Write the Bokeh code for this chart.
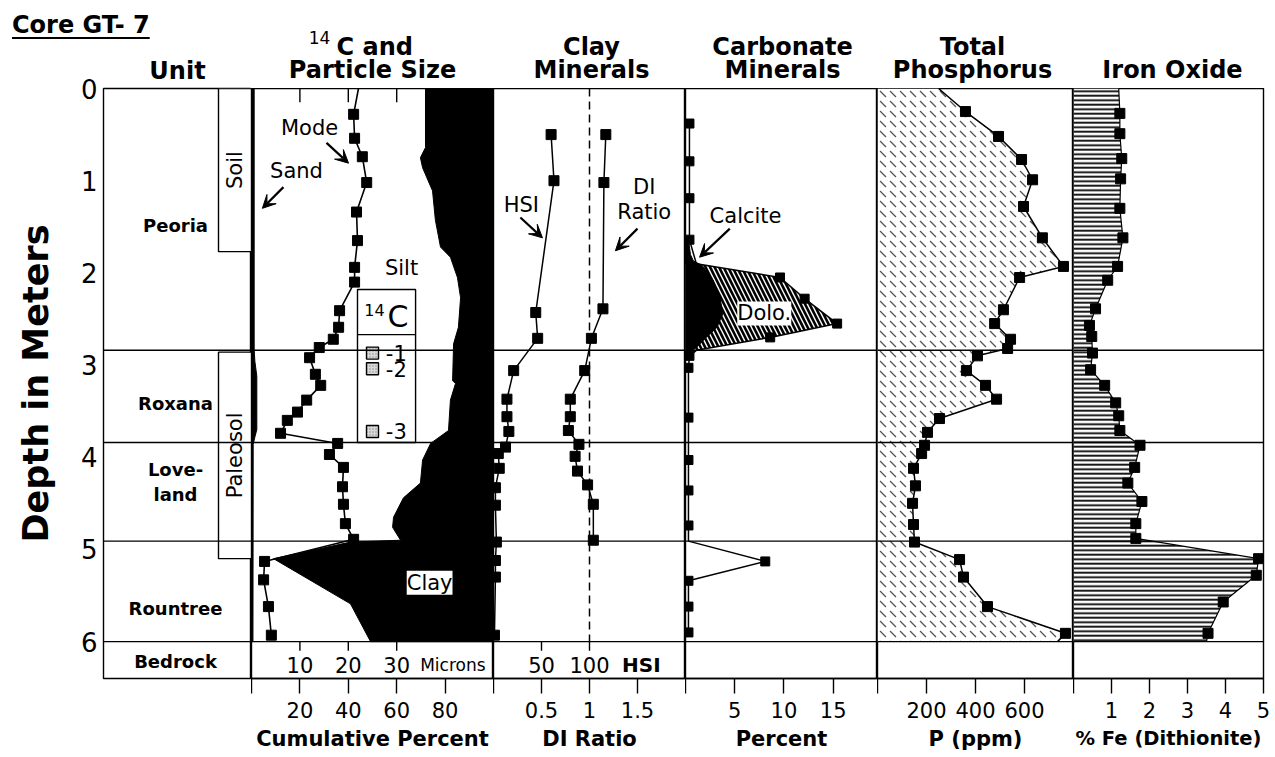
import numpy as np
from bokeh.plotting import figure
from bokeh.layouts import row, column
from bokeh.models import Range1d, FixedTicker, Span, Label, Arrow, VeeHead, Div
from bokeh.core.properties import value
from bokeh.embed import file_html
from bokeh.resources import INLINE

FONT = "DejaVu Sans"

# ---------------- data ----------------
depth_ticks = [0, 1, 2, 3, 4, 5, 6]
unit_names = ["Peoria", "Roxana", "Love-\nland", "Rountree", "Bedrock"]
unit_label_depth = [1.49, 3.42, 4.27, 5.64, 6.22]
unit_boundaries = [2.84, 3.84, 4.91, 6.0]
soil_names = ["Soil", "Paleosol"]
soil_top = [0.0, 2.86]
soil_bottom = [1.77, 5.10]

# 14C and particle size (cumulative percent / microns)
sand_depth = [0.0, 2.84, 2.96, 3.12, 3.70, 3.78, 3.86, 6.0]
sand_pct = [1.1, 1.1, 1.4, 2.2, 2.2, 1.4, 0.7, 0.6]
clay_depth = [0.0, 0.64, 0.75, 0.86, 1.11, 1.43, 1.72, 1.83, 2.05, 2.27, 2.59, 2.77, 3.17,
              3.20, 3.38, 3.71, 3.85, 4.03, 4.28, 4.44, 4.65, 4.76, 4.90, 4.92, 5.10, 5.59, 6.0]
clay_pct = [71.9, 71.9, 69.8, 70.7, 74.8, 76.0, 78.1, 82.2, 85.1, 86.4, 85.5, 83.5, 83.1,
            84.3, 82.2, 81.4, 74.0, 70.7, 69.8, 62.8, 58.7, 58.3, 61.6, 40.9, 9.1, 40.9, 49.2]
mode_depth = [0.28, 0.54, 0.74, 1.02, 1.34, 1.65, 1.94, 2.10, 2.41, 2.59, 2.72, 2.81, 2.92, 3.10,
              3.22, 3.38, 3.51, 3.60, 3.74, 3.85, 3.97, 4.11, 4.32, 4.51, 4.72, 4.89, 5.13, 5.33,
              5.62, 5.93]
mode_microns = [21.1, 21.3, 22.9, 23.8, 21.7, 21.9, 21.3, 21.3, 18.2, 18.0, 16.9, 14.0, 12.0, 13.2,
                14.3, 11.4, 9.5, 7.4, 6.0, 17.8, 16.1, 19.0, 18.8, 19.0, 19.4, 21.1, 2.7, 2.5,
                3.5, 4.1]
mode_surface = 22.1
c14_depth = [2.87, 3.04, 3.72]
c14_names = ["-1", "-2", "-3"]
micron_ticks = [10, 20, 30]
pct_ticks = [0, 20, 40, 60, 80]
pct_labels = ["", "20", "40", "60", "80"]

# clay minerals
hsi_depth = [0.50, 1.00, 2.43, 2.71, 3.06, 3.37, 3.56, 3.72, 3.89, 3.96, 4.12, 4.33, 4.52,
             4.92, 5.12, 5.30, 5.93]
hsi_value = [60, 63, 44, 46, 21, 14, 14, 16, 12.5, 5, 6, 2, 2, 3, 2, 2, 1]
di_depth = [0.50, 1.02, 2.39, 2.71, 3.06, 3.37, 3.56, 3.71, 3.86, 3.99, 4.15, 4.30, 4.51, 4.90]
di_value = [1.17, 1.15, 1.14, 1.02, 0.95, 0.80, 0.80, 0.78, 0.89, 0.85, 0.875, 0.98, 1.04, 1.04]
di_reference = 1.0
hsi_ticks = [50, 100]
di_ticks = [0, 0.5, 1, 1.5]
di_labels = ["", "0.5", "1", "1.5"]

# carbonate minerals
carb_depth = [0.38, 0.79, 1.19, 1.64, 1.90, 2.05, 2.28, 2.55, 2.70, 2.84, 2.90, 3.03, 3.57,
              4.03, 4.36, 4.74, 4.91, 5.13, 5.34, 5.62, 5.90]
carb_pct = [0.4, 0.4, 0.4, 0.4, 1.1, 9.6, 12.1, 15.4, 8.6, 1.1, 0.4, 0.3, 0.3,
            0.3, 0.3, 0.3, 0.3, 8.1, 0.3, 0.3, 0.3]
carb_sampled = [1, 1, 1, 1, 0, 1, 1, 1, 1, 0, 1, 1, 1, 1, 1, 1, 0, 1, 1, 1, 1]
dolo_depth = [1.90, 2.05, 2.28, 2.55, 2.70, 2.84]
dolo_pct = [1.1, 9.6, 12.1, 15.4, 8.6, 1.1]
calcite_depth = [1.64, 1.80, 1.87, 1.92, 2.08, 2.27, 2.44, 2.59, 2.70, 2.81, 2.86]
calcite_pct = [0.3, 0.5, 0.8, 1.7, 2.8, 3.5, 3.8, 3.2, 2.1, 1.1, 0.4]
carb_ticks = [0, 5, 10, 15]
carb_labels = ["", "5", "10", "15"]

# total phosphorus
p_depth = [0.25, 0.52, 0.77, 0.99, 1.28, 1.62, 1.93, 2.05, 2.40, 2.55, 2.72, 2.82, 2.90, 3.06,
           3.22, 3.37, 3.58, 3.73, 3.87, 3.96, 4.12, 4.31, 4.50, 4.73, 4.92, 5.11, 5.30, 5.62,
           5.91]
p_ppm = [359, 494, 588, 633, 596, 673, 759, 580, 514, 478, 543, 531, 408, 363,
         441, 486, 253, 204, 192, 180, 147, 155, 143, 147, 151, 335, 351, 449, 767]
p_surface = 249
p_base = 735
p_ticks = [0, 200, 400, 600]
p_labels = ["", "200", "400", "600"]

# iron oxide
fe_depth = [0.27, 0.49, 0.76, 0.98, 1.30, 1.62, 1.93, 2.08, 2.39, 2.57, 2.69, 2.87, 3.05, 3.22,
            3.41, 3.55, 3.71, 3.87, 4.11, 4.28, 4.48, 4.72, 4.88, 5.10, 5.28, 5.57, 5.91]
fe_pct = [1.22, 1.22, 1.27, 1.24, 1.22, 1.30, 1.16, 0.90, 0.58, 0.42, 0.48, 0.50, 0.45, 0.82,
          1.11, 1.19, 1.22, 1.75, 1.61, 1.43, 1.80, 1.64, 1.64, 4.87, 4.81, 3.94, 3.54]
fe_surface = 1.19
fe_base = 3.5
fe_ticks = [0, 1, 2, 3, 4, 5]
fe_labels = ["", "1", "2", "3", "4", "5"]

# ---------------- layout constants (pixels) ----------------
HEADER_H = 88          # header height above the panels
CORE_H = 45            # title strip above the unit column
FRAME_H = 590
BOTTOM_H = 78
LEFT_B = 103
UNIT_W = 148
PANELS_X0 = LEFT_B + UNIT_W
PANELS_W = 1271 - PANELS_X0
LW = 1.4

yr = Range1d(6.4, 0)


def base(fig):
    fig.grid.visible = False
    fig.outline_line_color = "black"
    fig.outline_line_width = LW
    fig.background_fill_color = "white"
    fig.border_fill_color = "white"
    for d in unit_boundaries:
        fig.add_layout(Span(location=d, dimension="width", line_color="black", line_width=LW))
    return fig


def panel(frame_w, x0, x1, right_border=0):
    fig = figure(frame_width=frame_w, frame_height=FRAME_H, x_range=Range1d(x0, x1), y_range=yr,
                 output_backend="svg", toolbar_location=None, y_axis_location=None,
                 min_border_left=0, min_border_right=right_border, min_border_top=0,
                 min_border_bottom=BOTTOM_H)
    return base(fig)


def bottom_axis(fig, ticks, labels, title, title_size="21px"):
    ax = fig.xaxis[0]
    ax.ticker = FixedTicker(ticks=ticks)
    ax.major_label_overrides = {t: l for t, l in zip(ticks, labels)}
    ax.minor_tick_line_color = None
    ax.major_tick_out = 15
    ax.major_tick_in = 0
    ax.major_tick_line_width = LW
    ax.major_tick_line_color = "black"
    ax.axis_line_color = "black"
    ax.axis_line_width = LW
    ax.major_label_text_font = FONT
    ax.major_label_text_font_size = "21px"
    ax.major_label_text_color = "black"
    ax.major_label_standoff = 8
    ax.axis_label = title
    ax.axis_label_text_font = FONT
    ax.axis_label_text_font_size = title_size
    ax.axis_label_text_font_style = "bold"
    ax.axis_label_text_color = "black"
    ax.axis_label_standoff = 6


def txt(fig, x, y, s, size="20px", style="normal", align="center", **kw):
    fig.text(x=x, y=y, text=s, text_font=value(FONT), text_font_size=size,
             text_font_style=style, text_align=align, text_baseline="middle",
             text_color="black", **kw)


def lab(fig, x, y, s, size="20px", style="normal", bg=None, **kw):
    fig.add_layout(Label(x=x, y=y, text=s, text_font=FONT, text_font_size=size,
                         text_font_style=style, text_align="center", text_baseline="middle",
                         text_color="black", background_fill_color=bg, **kw))


def arrow(fig, xs, ys, xe, ye, **kw):
    fig.add_layout(Arrow(x_start=xs, y_start=ys, x_end=xe, y_end=ye, line_width=2.2,
                         line_color="black",
                         end=VeeHead(size=13, fill_color="black", line_color="black"), **kw))


# ---------------- headers ----------------
core_title = "Core GT- 7"
hc = Div(text=('<span style="text-decoration: underline; text-decoration-thickness: 2px; '
               'text-underline-offset: 4px; text-decoration-skip-ink: none;">'
               + core_title + '</span>'),
         width=PANELS_X0, height=CORE_H, margin=0,
         styles={"font-family": "'DejaVu Sans', sans-serif", "font-size": "24px",
                 "font-weight": "bold", "line-height": "24px", "padding-top": "13px",
                 "padding-left": "12px", "box-sizing": "border-box", "color": "black",
                 "background": "white"})

hp = figure(frame_width=PANELS_W, frame_height=HEADER_H, x_range=Range1d(0, PANELS_W),
            y_range=Range1d(HEADER_H, 0), output_backend="svg", toolbar_location=None,
            x_axis_location=None, y_axis_location=None, min_border=0)
hp.grid.visible = False
hp.outline_line_color = None
hp.border_fill_color = "white"
hp.background_fill_color = "white"
ox = PANELS_X0
txt(hp, [319 - ox], [37], ["14"], size="17px")
txt(hp, [336 - ox], [46], ["C and"], size="24px", style="bold", align="left")
txt(hp, [372 - ox, 591 - ox, 782 - ox, 972 - ox, 1172 - ox], [69] * 5,
    ["Particle Size", "Minerals", "Minerals", "Phosphorus", "Iron Oxide"],
    size="24px", style="bold")
txt(hp, [591 - ox, 782 - ox, 972 - ox], [46] * 3, ["Clay", "Carbonate", "Total"],
    size="24px", style="bold")

# ---------------- unit column ----------------
pu = figure(frame_width=UNIT_W, frame_height=FRAME_H, x_range=Range1d(0, UNIT_W), y_range=yr,
            output_backend="svg", toolbar_location=None, x_axis_location=None,
            min_border_left=LEFT_B, min_border_right=0, min_border_top=HEADER_H - CORE_H,
            min_border_bottom=BOTTOM_H, title="Unit")
base(pu)
pu.title.text_font = FONT
pu.title.text_font_size = "24px"
pu.title.text_font_style = "bold"
pu.title.align = "center"
pu.title.text_color = "black"
pu.title.standoff = 8
ya = pu.yaxis[0]
ya.ticker = FixedTicker(ticks=depth_ticks)
ya.minor_tick_line_color = None
ya.major_tick_in = 0
ya.major_tick_out = 0
ya.axis_line_color = None
ya.major_label_text_font = FONT
ya.major_label_text_font_size = "26px"
ya.major_label_text_color = "black"
ya.major_label_standoff = 6
ya.axis_label = "Depth in Meters"
ya.axis_label_text_font = FONT
ya.axis_label_text_font_size = "35px"
ya.axis_label_text_font_style = "bold"
ya.axis_label_text_color = "black"
ya.axis_label_standoff = 22

pu.quad(left=[115, 115], right=[148, 148], top=soil_top, bottom=soil_bottom,
        fill_color="white", line_color="black", line_width=LW)
txt(pu, [131.5, 131.5], [(a + b) / 2 for a, b in zip(soil_top, soil_bottom)], soil_names,
    size="21px", angle=np.pi / 2)
txt(pu, [72] * len(unit_names), unit_label_depth, unit_names, size="18px", style="bold")

# ---------------- 14C and particle size ----------------
p1 = panel(242, 0, 100)
p1.extra_x_ranges = {"microns": Range1d(0, 50)}
bottom_axis(p1, pct_ticks, pct_labels, "Cumulative Percent")
p1.patch(x=[0] + sand_pct + [0], y=[sand_depth[0]] + sand_depth + [sand_depth[-1]],
         fill_color="black", line_color="black")
p1.patch(x=clay_pct + [100, 100], y=clay_depth + [6.0, 0.0], fill_color="black",
         line_color="black", line_width=1)
p1.line(x=[mode_surface] + mode_microns, y=[0.0] + mode_depth, x_range_name="microns",
        line_color="black", line_width=1.6)
p1.scatter(x=mode_microns, y=mode_depth, x_range_name="microns", marker="square", size=10,
           color="black")
p1.segment(x0=micron_ticks, x1=micron_ticks, y0=[0.0] * 3, y1=[0.15] * 3,
           x_range_name="microns", line_color="black", line_width=LW)
p1.segment(x0=micron_ticks, x1=micron_ticks, y0=[6.0] * 3, y1=[6.1] * 3,
           x_range_name="microns", line_color="black", line_width=LW)
txt(p1, micron_ticks, [6.25] * 3, [str(t) for t in micron_ticks], size="21px",
    x_range_name="microns")
txt(p1, [41.6], [6.25], ["Microns"], size="17px", x_range_name="microns")
# 14C legend box
p1.quad(left=[43.8, 43.8], right=[67.8, 67.8], top=[2.18, 2.67], bottom=[2.67, 3.84],
        fill_color="white", line_color="black", line_width=LW)
txt(p1, [50.8], [2.40], ["14"], size="16px")
txt(p1, [60.5], [2.47], ["C"], size="30px")
p1.scatter(x=[50.0] * 3, y=c14_depth, marker="square", size=12, fill_color="#d9d9d9",
           line_color="black", line_width=1.4, hatch_pattern="dot", hatch_color="#888888",
           hatch_scale=3)
txt(p1, [55.5] * 3, c14_depth, c14_names, size="21px", align="left")
lab(p1, 24.0, 0.43, "Mode", size="21px")
lab(p1, 18.6, 0.90, "Sand", size="21px")
lab(p1, 62.0, 1.95, "Silt", size="21px")
lab(p1, 73.6, 5.36, "Clay", size="21px", bg="white")
arrow(p1, 31.0, 0.59, 40.1, 0.81)
arrow(p1, 13.2, 1.07, 4.5, 1.30)

# ---------------- clay minerals ----------------
p2 = panel(192, 0, 2)
p2.extra_x_ranges = {"hsi": Range1d(0, 200)}
bottom_axis(p2, di_ticks, di_labels, "DI Ratio")
p2.segment(x0=[di_reference], x1=[di_reference], y0=[0.0], y1=[6.0], line_color="black",
           line_width=1.5, line_dash="8 5")
p2.line(x=hsi_value, y=hsi_depth, x_range_name="hsi", line_color="black", line_width=1.5)
p2.scatter(x=hsi_value, y=hsi_depth, x_range_name="hsi", marker="square", size=10,
           color="black")
p2.line(x=di_value, y=di_depth, line_color="black", line_width=1.5)
p2.scatter(x=di_value, y=di_depth, marker="square", size=10, color="black")
p2.segment(x0=hsi_ticks, x1=hsi_ticks, y0=[6.0] * 2, y1=[6.1] * 2, x_range_name="hsi",
           line_color="black", line_width=LW)
txt(p2, hsi_ticks, [6.25] * 2, [str(t) for t in hsi_ticks], size="21px", x_range_name="hsi")
txt(p2, [154], [6.25], ["HSI"], size="20px", style="bold", x_range_name="hsi")
lab(p2, 0.29, 1.26, "HSI", size="21px")
lab(p2, 1.57, 1.07, "DI", size="21px")
lab(p2, 1.57, 1.34, "Ratio", size="21px")
arrow(p2, 0.28, 1.40, 0.51, 1.62)
arrow(p2, 1.50, 1.52, 1.27, 1.76)

# ---------------- carbonate minerals ----------------
p3 = panel(192, 0, 19.5)
bottom_axis(p3, carb_ticks, carb_labels, "Percent")
p3.patch(x=[0] + dolo_pct + [0], y=[dolo_depth[0]] + dolo_depth + [dolo_depth[-1]],
         fill_color="white", line_color=None, hatch_pattern="left_diagonal_line",
         hatch_color="black", hatch_scale=9, hatch_weight=2.6)
p3.patch(x=[0] + calcite_pct + [0], y=[calcite_depth[0]] + calcite_depth + [calcite_depth[-1]],
         fill_color="black", line_color="black")
p3.line(x=carb_pct, y=carb_depth, line_color="black", line_width=1.5)
cs_d = [d for d, s in zip(carb_depth, carb_sampled) if s]
cs_v = [v for v, s in zip(carb_pct, carb_sampled) if s]
p3.scatter(x=cs_v, y=cs_d, marker="square", size=9, color="black")
lab(p3, 6.1, 1.38, "Calcite", size="21px")
lab(p3, 8.0, 2.44, "Dolo.", size="21px", bg="white")
arrow(p3, 4.5, 1.52, 1.43, 1.83)

# ---------------- total phosphorus ----------------
p4 = panel(196, 0, 800)
bottom_axis(p4, p_ticks, p_labels, "P (ppm)")
p4.patch(x=[0, p_surface] + p_ppm + [p_base, 0], y=[0.0, 0.0] + p_depth + [6.0, 6.0],
         fill_color="white", line_color=None, hatch_pattern="left_diagonal_dash",
         hatch_color="#555555", hatch_scale=10, hatch_weight=1.3)
p4.line(x=[p_surface] + p_ppm + [p_base], y=[0.0] + p_depth + [6.0], line_color="black",
        line_width=1.5)
p4.scatter(x=p_ppm, y=p_depth, marker="square", size=10, color="black")

# ---------------- iron oxide ----------------
p5 = panel(190, 0, 5, right_border=8)
bottom_axis(p5, fe_ticks, fe_labels, "% Fe (Dithionite)", title_size="19.5px")
p5.patch(x=[0, fe_surface] + fe_pct + [fe_base, 0], y=[0.0, 0.0] + fe_depth + [6.0, 6.0],
         fill_color="white", line_color=None, hatch_pattern="horizontal_line",
         hatch_color="black", hatch_scale=4.5, hatch_weight=1.8)
p5.line(x=[fe_surface] + fe_pct + [fe_base], y=[0.0] + fe_depth + [6.0], line_color="black",
        line_width=1.2)
p5.scatter(x=fe_pct, y=fe_depth, marker="square", size=10, color="black")

layout = row(column(hc, pu, spacing=0),
             column(hp, row(p1, p2, p3, p4, p5, spacing=0), spacing=0),
             spacing=0)
open("out.html", "w").write(file_html(layout, INLINE, title="Core GT-7"))
